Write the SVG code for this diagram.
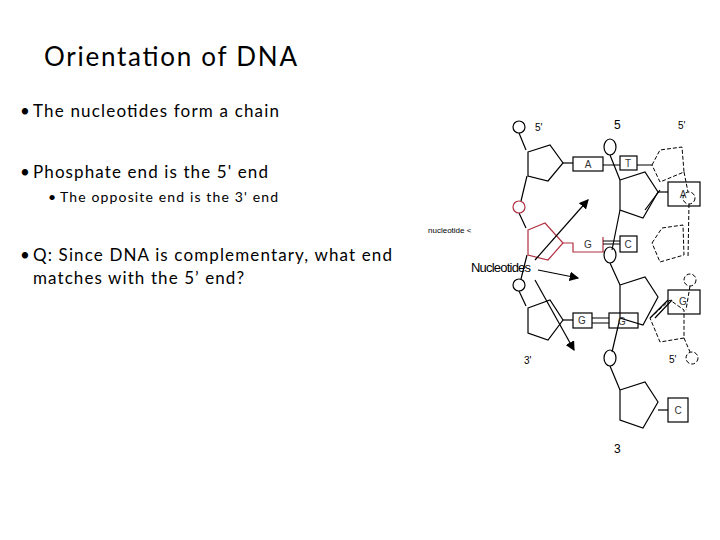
<svg xmlns="http://www.w3.org/2000/svg" width="720" height="540" viewBox="0 0 720 540">
<style>
.t{font-family:Lato,"Liberation Sans",Arial,sans-serif;fill:#000}
.l{font-family:"Liberation Sans",Arial,sans-serif;fill:#000}
.s{fill:none;stroke:#000;stroke-width:1.2}
.r{fill:none;stroke:#b03040;stroke-width:1.2}
.d{fill:none;stroke:#000;stroke-width:1;stroke-dasharray:4 2}
.b{font-family:"Liberation Sans",Arial,sans-serif;font-size:10px;fill:#333;text-anchor:middle}
</style>
<defs><marker id="ah" markerWidth="8" markerHeight="8" refX="7" refY="4" orient="auto"><path d="M0,0 L8,4 L0,8 z" fill="#000"/></marker></defs>
<rect width="720" height="540" fill="#fff"/>
<g id="text">
<text class="t" x="44" y="66" font-size="26" textLength="253">Orientation of DNA</text>
<text class="t" x="20" y="117" font-size="17">•</text><text class="t" x="33" y="117" font-size="17" textLength="246">The nucleotides form a chain</text>
<text class="t" x="20" y="178" font-size="17">•</text><text class="t" x="33" y="178" font-size="17" textLength="235">Phosphate end is the 5' end</text>
<text class="t" x="48" y="202" font-size="14">•</text><text class="t" x="60" y="202" font-size="14" textLength="218">The opposite end is the 3' end</text>
<text class="t" x="20" y="261" font-size="17">•</text><text class="t" x="33" y="261" font-size="17" textLength="359">Q: Since DNA is complementary, what end</text>
<text class="t" x="33" y="284" font-size="17" textLength="211">matches with the 5’ end?</text>
</g>
<g id="left-strand">
<path class="s" d="M519,133 L526,150 M527,176 L521,201 M519,213 L526,228 M527,255 L521,279 M519,291 L526,306"/>
<circle class="s" cx="519" cy="127" r="6"/>
<polygon class="s" points="528,152 550,145 563,163 548,181 528,176"/>
<line class="s" x1="563" y1="163" x2="573" y2="163"/>
<rect class="s" x="573" y="157" width="30" height="14"/><text class="b" x="588" y="168">A</text>
<circle class="r" cx="519" cy="207" r="6"/>
<polygon class="r" points="528,230 545,223 563,243 548,260 528,255"/>
<path class="r" d="M563,243 L573,243 L573,252 L603,252 L603,237"/>
<text class="b" x="588" y="248" fill="#b03040">G</text>
<circle class="s" cx="519" cy="285" r="6"/>
<polygon class="s" points="528,308 550,300 563,320 548,340 528,333"/>
<line class="s" x1="563" y1="320" x2="573" y2="320"/>
<rect class="s" x="573" y="313" width="19" height="15"/><text class="b" x="582" y="324">G</text>
</g>
<g id="middle-strand">
<ellipse class="s" cx="610" cy="147" rx="6" ry="8"/>
<rect class="s" x="620" y="156" width="17" height="14"/><text class="b" x="628" y="167">T</text>
<polygon class="s" points="620,180 645,172 658,192 643,218 620,210"/>
<line class="s" x1="658" y1="192" x2="668" y2="192" stroke-width="2"/>
<rect class="s" x="668" y="182" width="32" height="24"/><text class="b" x="683" y="198">A</text>
<path class="s" d="M610,155 L620,180 M620,210 L612,250"/>
<rect class="s" x="620" y="236" width="17" height="16"/><text class="b" x="628" y="248">C</text>
<ellipse class="s" cx="610" cy="255" rx="6" ry="8"/>
<polygon class="s" points="620,285 645,277 658,297 643,325 620,318"/>
<path class="s" d="M610,263 L620,285 M620,318 L612,352"/>
<rect class="s" x="609" y="313" width="29" height="15"/><text class="b" x="622" y="325">G</text>
<rect class="s" x="668" y="290" width="32" height="24"/><text class="b" x="683" y="305">G</text>
<ellipse class="s" cx="610" cy="358" rx="6" ry="8"/>
<polygon class="s" points="620,390 645,382 658,402 643,428 620,420"/>
<path class="s" d="M610,366 L620,390"/>
<line class="s" x1="658" y1="410" x2="668" y2="410" stroke-width="2"/>
<rect class="s" x="668" y="398" width="20" height="24"/><text class="b" x="678" y="414">C</text>
</g>
<g id="right-strand">
<polygon class="d" points="652,165 660,150 682,147 684,172 660,182"/>
<polygon class="d" points="652,243 662,228 683,225 684,255 660,262"/>
<polygon class="d" points="650,318 670,300 684,310 684,338 660,342"/>
<circle class="d" cx="689" cy="198" r="6"/>
<circle class="d" cx="690" cy="280" r="6"/>
<circle class="d" cx="692" cy="358" r="6"/>
<path class="d" d="M684,172 L688,192 M689,204 L688,258 M690,286 L686,310 M684,338 L690,352"/>
<path class="s" d="M603,165 L620,165 M637,165 L652,165 M603,244 L620,244 M603,241 L620,241 M592,318 L609,318 M592,323 L609,323 M645,210 L660,190 M650,318 L668,300 M655,318 L672,300"/>
</g>
<g id="connectors">
<line class="s" x1="535" y1="260" x2="588" y2="200" marker-end="url(#ah)"/>
<line class="s" x1="538" y1="270" x2="578" y2="278" marker-end="url(#ah)"/>
<line class="s" x1="535" y1="280" x2="574" y2="350" marker-end="url(#ah)"/>
</g>
<g id="labels">
<text class="l" x="535" y="131" font-size="10" fill="#444">5'</text>
<text class="l" x="614" y="129" font-size="12">5</text>
<text class="l" x="678" y="129" font-size="10" fill="#444">5'</text>
<text class="l" x="471" y="272" font-size="13" textLength="60">Nucleotides</text>
<text class="l" x="428" y="233" font-size="8" fill="#b03040">nucleotide &lt;</text>
<text class="l" x="524" y="364" font-size="10" fill="#444">3'</text>
<text class="l" x="669" y="363" font-size="10" fill="#444">5'</text>
<text class="l" x="614" y="453" font-size="12">3</text>
</g>
</svg>
